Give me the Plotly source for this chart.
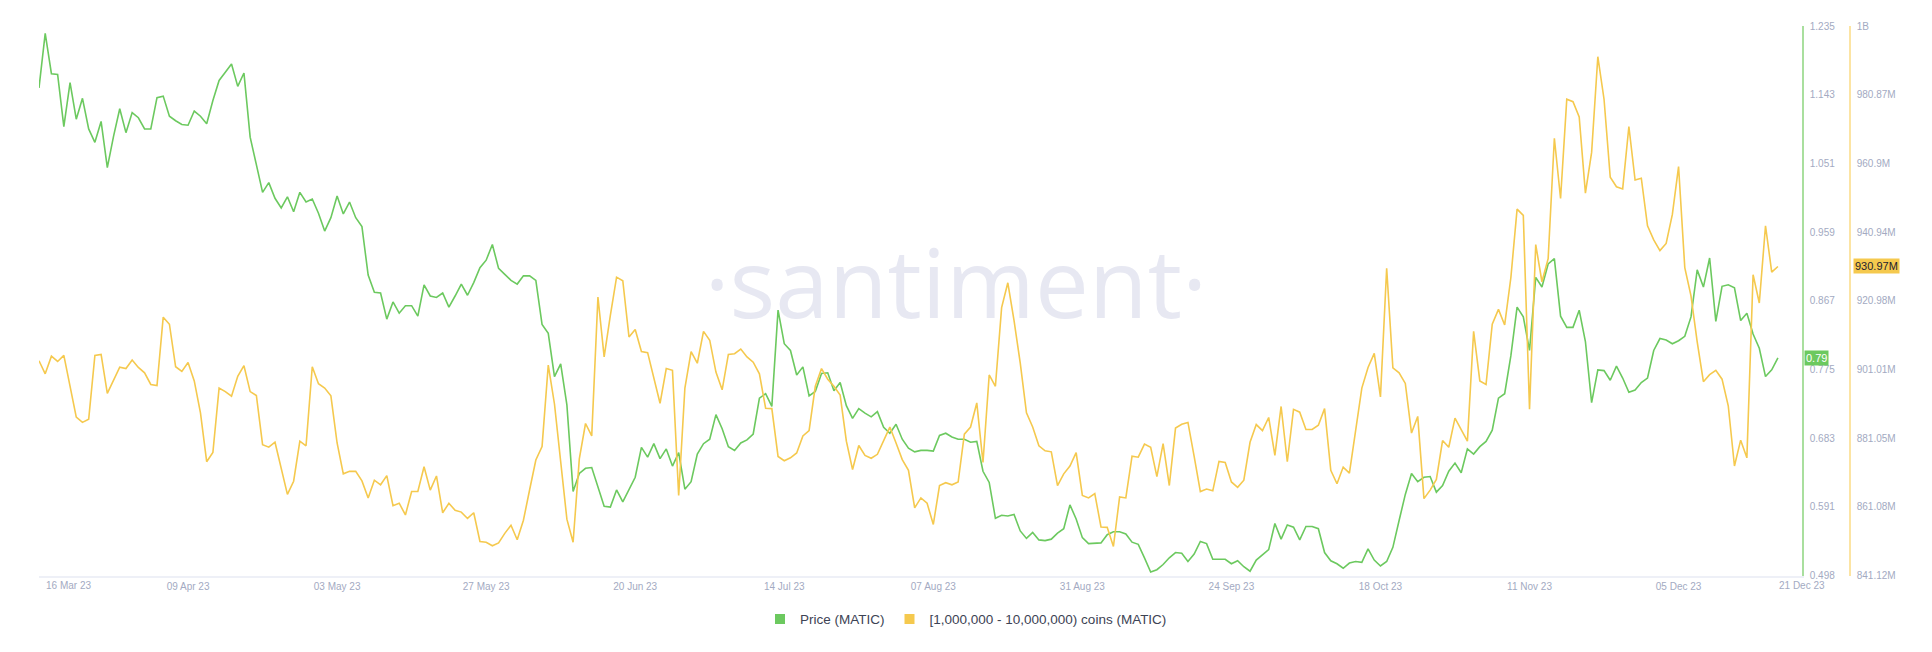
import numpy as np
import pandas as pd
import plotly.graph_objects as go

# ---------------- data ----------------
start_date = "2023-03-16"
price = [
    1.152, 1.225, 1.171, 1.170, 1.100, 1.159, 1.110, 1.138, 1.097, 1.079, 1.107, 1.045, 1.087, 1.124, 1.092, 1.119,
    1.112, 1.097, 1.097, 1.139, 1.141, 1.114, 1.108, 1.103, 1.102, 1.121, 1.114, 1.104, 1.135, 1.162, 1.173, 1.184,
    1.154, 1.172, 1.086, 1.049, 1.012, 1.025, 1.004, 0.991, 1.006, 0.986, 1.012, 0.999, 1.003, 0.984, 0.960, 0.978,
    1.007,
    0.983, 0.999, 0.978, 0.966, 0.901, 0.878, 0.877, 0.842, 0.865, 0.850, 0.860, 0.860, 0.846, 0.888, 0.873, 0.871,
    0.877, 0.858, 0.873, 0.889, 0.874, 0.891, 0.911, 0.921, 0.942, 0.910, 0.902, 0.894, 0.889, 0.900, 0.900, 0.894,
    0.835, 0.823, 0.765, 0.782, 0.727, 0.611, 0.635, 0.642, 0.643, 0.617, 0.591, 0.590, 0.613, 0.597, 0.613,
    0.630, 0.670, 0.657, 0.675, 0.655, 0.668, 0.645, 0.663, 0.614, 0.624, 0.661, 0.675, 0.681, 0.714, 0.695, 0.671,
    0.666, 0.676, 0.680, 0.688, 0.736, 0.742, 0.725, 0.854, 0.809, 0.800, 0.767, 0.778, 0.739, 0.745, 0.769, 0.770,
    0.746, 0.757, 0.726, 0.709, 0.722, 0.716, 0.711, 0.718, 0.697, 0.689, 0.701, 0.681, 0.669, 0.664, 0.666, 0.666,
    0.665, 0.686,
    0.689, 0.684, 0.681, 0.681, 0.677, 0.678, 0.638, 0.623, 0.575, 0.579, 0.578, 0.580, 0.558, 0.548, 0.556, 0.546,
    0.545, 0.547, 0.555, 0.561, 0.593, 0.574, 0.549, 0.541, 0.541, 0.542, 0.553, 0.557, 0.557, 0.554, 0.543, 0.540,
    0.522, 0.503, 0.506, 0.513, 0.522, 0.529, 0.528, 0.517, 0.527, 0.544, 0.541, 0.520, 0.520, 0.520, 0.514, 0.518,
    0.510, 0.504, 0.519, 0.526, 0.533, 0.568, 0.547, 0.566, 0.563, 0.546, 0.564, 0.564, 0.561, 0.529, 0.518, 0.514,
    0.508, 0.515, 0.517, 0.516, 0.534, 0.519, 0.511, 0.517, 0.536, 0.572, 0.607, 0.635, 0.624, 0.630, 0.631, 0.610,
    0.619, 0.638, 0.649, 0.636, 0.668, 0.661, 0.671, 0.678, 0.693, 0.736, 0.742, 0.793, 0.858, 0.845, 0.800,
    0.898, 0.885, 0.916, 0.923, 0.846, 0.831, 0.831, 0.854, 0.812, 0.730, 0.774, 0.773, 0.760, 0.779, 0.763, 0.744,
    0.747, 0.757, 0.763, 0.800, 0.816, 0.814, 0.809, 0.813, 0.819, 0.845, 0.908, 0.885, 0.924, 0.839, 0.886, 0.888,
    0.884, 0.840, 0.850, 0.822, 0.803, 0.765, 0.774, 0.790,
]
holders = [  # [1,000,000 - 10,000,000) coins, in millions of MATIC
    903.58, 899.77, 904.92, 903.37, 905.12, 896.17, 887.21, 885.66, 886.59, 905.12, 905.43, 894.11, 897.71, 901.73,
    901.31, 903.78, 901.62, 900.08, 896.68, 896.37, 916.24, 914.18, 901.83, 900.49, 903.06, 897.71, 888.44, 874.24,
    876.91, 895.65, 894.62, 893.28, 899.05, 902.14, 894.62, 893.49, 879.18, 878.46, 879.90, 872.49, 864.76, 868.57,
    880.21, 878.87, 901.83, 896.89, 895.65, 893.38, 879.68,
    870.72, 871.44, 871.44, 868.66, 863.72, 868.87, 867.53, 870.21, 861.45, 862.18, 858.78, 865.57, 865.57, 872.78,
    865.99, 870.10, 859.40, 862.18, 860.12, 859.60, 857.75, 859.40, 851.05, 850.85, 849.82, 850.64, 853.42, 855.79,
    851.57, 857.23, 866.09, 874.74, 878.65, 902.33, 891.01, 875.05, 857.54, 850.85, 875.05, 885.34, 881.74, 922.10,
    904.70, 916.75, 927.87, 926.84, 910.47,
    912.63, 906.25, 905.94, 898.73, 891.21, 901.30, 900.79, 864.44, 895.64, 906.25, 902.85, 912.12, 909.54, 900.27,
    895.13, 905.42, 905.63, 906.97, 904.70, 903.16, 899.76, 889.77, 889.67, 875.77, 874.53, 875.36, 876.80, 881.74,
    883.28, 896.16, 901.30, 898.22, 896.16, 893.58, 880.20, 871.96, 878.96, 876.08, 875.25, 876.39, 880.20, 884.31,
    879.68, 874.84, 871.75, 860.84, 863.72, 862.18, 856.00, 867.32,
    868.15, 867.53, 868.35, 882.25, 884.31, 891.32, 874.02, 899.45, 896.16, 919.02, 926.22, 915.21, 902.85, 888.43,
    884.31, 878.86, 877.42, 877.11, 867.32, 870.72, 872.99, 876.90, 864.44, 863.72, 864.96, 855.28, 855.17, 849.61,
    864.03, 863.72, 875.87, 875.56, 879.37, 878.44, 869.90, 879.47, 867.32, 884.01, 885.14, 885.65, 875.77, 865.57,
    866.29, 865.78, 874.33, 874.02, 868.35, 866.81,
    868.87, 879.89, 885.03, 883.28, 887.09, 876.08, 890.29, 874.22, 889.46, 888.64, 883.59, 883.59, 884.83, 889.67,
    871.75, 867.84, 872.68, 870.93, 883.28, 895.64, 901.61, 905.73, 893.07, 930.44, 901.51, 900.07, 896.98, 882.56,
    887.40, 863.51, 865.99, 869.07, 880.40, 878.44, 886.89, 883.59, 880.20, 912.12, 897.70, 896.67, 914.18, 918.50,
    913.97, 927.77, 947.64, 945.79, 889.46,
    937.34, 926.53, 933.22, 968.23, 950.73, 979.56, 978.84, 974.41, 952.27, 964.12, 991.92, 979.56, 956.91, 954.13,
    953.51, 971.63, 956.08, 956.60, 942.80, 938.68, 935.59, 937.65, 946.10, 960.00, 930.65, 922.41, 909.03, 897.49,
    899.55, 900.79, 898.22, 890.49, 872.99, 880.50, 875.36, 928.59, 920.35, 942.80, 929.31, 930.97,
]
dates = pd.date_range(start_date, periods=len(price), freq="D")

price_ticktext = ["0.498", "0.591", "0.683", "0.775", "0.867", "0.959", "1.051", "1.143", "1.235"]
holders_ticktext = ["841.12M", "861.08M", "881.05M", "901.01M", "920.98M", "940.94M", "960.9M", "980.87M", "1B"]
price_range = [0.498, 1.235]
holders_range = [841.12, 1000.84]
x_tick_dates = ["2023-04-09", "2023-05-03", "2023-05-27", "2023-06-20", "2023-07-14", "2023-08-07",
                "2023-08-31", "2023-09-24", "2023-10-18", "2023-11-11", "2023-12-05"]
x_end = "2023-12-24 21:00"

GREEN = "#6cc95f"
YELLOW = "#f5c94e"
TICK = "#a3aac2"
FONT = "Liberation Sans, Arial, sans-serif"

fig = go.Figure()

# watermark (drawn first so the lines go over it)
fig.add_trace(go.Scatter(x=[0.52], y=[0.513], mode="text", text=["·santiment·"],
                         textfont=dict(family="Open Sans, sans-serif", size=96, color="#e7e8f2"),
                         xaxis="x3", yaxis="y3", hoverinfo="skip", showlegend=False))

fig.add_trace(go.Scatter(x=dates, y=holders, mode="lines", line=dict(color=YELLOW, width=1.6),
                         yaxis="y2", showlegend=False, hoverinfo="skip"))
fig.add_trace(go.Scatter(x=dates, y=price, mode="lines", line=dict(color=GREEN, width=1.6),
                         yaxis="y", showlegend=False, hoverinfo="skip"))

# legend entries (square markers)
fig.add_trace(go.Scatter(x=[None], y=[None], mode="markers", name="Price (MATIC)",
                         marker=dict(symbol="square", size=10, color=GREEN)))
fig.add_trace(go.Scatter(x=[None], y=[None], mode="markers", name="[1,000,000 - 10,000,000) coins (MATIC)",
                         marker=dict(symbol="square", size=10, color=YELLOW), yaxis="y2"))

XDOM = 1763 / 1811
fig.update_layout(
    width=1916, height=636,
    margin=dict(l=31, r=74, t=15, b=67),
    paper_bgcolor="white", plot_bgcolor="white",
    font=dict(family=FONT),
    xaxis=dict(domain=[0, XDOM], range=[start_date, x_end], showgrid=False, zeroline=False,
               showline=True, linecolor="#eef0f7", linewidth=2,
               tickmode="array", tickvals=x_tick_dates,
               ticktext=[pd.Timestamp(d).strftime("%d %b %y") for d in x_tick_dates],
               ticks="", tickfont=dict(size=10, color=TICK, family=FONT)),
    yaxis=dict(range=price_range, side="right", anchor="x", showgrid=False, zeroline=False,
               showline=True, linecolor="#a9df9e", linewidth=1.5,
               tickmode="array", tickvals=list(np.linspace(price_range[0], price_range[1], len(price_ticktext))),
               ticktext=price_ticktext, ticks="", ticklabelstandoff=4,
               tickfont=dict(size=10, color=TICK, family=FONT)),
    yaxis2=dict(range=holders_range, side="right", overlaying="y", anchor="free", position=1.0,
                showgrid=False, zeroline=False, showline=True, linecolor="#fce4a3", linewidth=1.5,
                tickmode="array",
                tickvals=list(np.linspace(holders_range[0], holders_range[1], len(holders_ticktext))),
                ticktext=holders_ticktext, ticks="", ticklabelstandoff=4,
                tickfont=dict(size=10, color=TICK, family=FONT)),
    xaxis3=dict(overlaying="x", range=[0, 1], visible=False),
    yaxis3=dict(overlaying="y", range=[0, 1], visible=False),
    showlegend=True,
    legend=dict(orientation="h", xref="container", x=0.5, xanchor="center",
                yref="container", y=0.039, yanchor="middle",
                font=dict(size=13.5, color="#3d4354", family=FONT), itemwidth=30,
                bgcolor="rgba(0,0,0,0)"),
)

# edge date labels, left-aligned at first / last date
for d, shift in [(dates[0], 5), (dates[-1], -1)]:
    fig.add_annotation(x=d, xref="x", y=0, yref="paper", yanchor="top", xanchor="left",
                       text=d.strftime("%d %b %y"), showarrow=False, xshift=shift, yshift=-2,
                       font=dict(size=10, color=TICK, family=FONT))

# last value badges
fig.add_annotation(x=XDOM, xref="paper", y=price[-1], yref="y", xanchor="left", xshift=2,
                   text=f"{price[-1]:.2f}", showarrow=False, bgcolor=GREEN, borderpad=1,
                   font=dict(size=11, color="white", family=FONT))
fig.add_annotation(x=1.0, xref="paper", y=holders[-1], yref="y2", xanchor="left", xshift=3,
                   text=f"{holders[-1]:.2f}M", showarrow=False, bgcolor=YELLOW, borderpad=1,
                   font=dict(size=11, color="#1e2230", family=FONT))

fig.write_html("out.html")
